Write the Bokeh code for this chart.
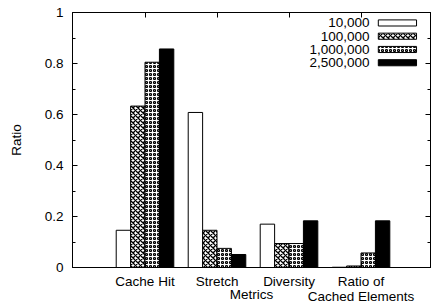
from bokeh.plotting import figure
from bokeh.models import Range1d, FixedTicker, LinearAxis
from bokeh.core.properties import value
from bokeh.embed import file_html
from bokeh.resources import INLINE

# ---- data ----
metrics = ["Cache Hit", "Stretch", "Diversity", "Ratio of\nCached Elements"]
series = ["10,000", "100,000", "1,000,000", "2,500,000"]
v_10k = [0.146, 0.608, 0.170, 0.001]
v_100k = [0.633, 0.146, 0.094, 0.006]
v_1m = [0.805, 0.075, 0.094, 0.057]
v_2_5m = [0.857, 0.051, 0.183, 0.183]
y_ticks = [0, 0.2, 0.4, 0.6, 0.8, 1.0]
y_tick_labels = ["0", "0.2", "0.4", "0.6", "0.8", "1"]
y_minor = [0.1, 0.3, 0.5, 0.7, 0.9]

FONT = "Liberation Sans"
FS = "13.5px"

values = [v_10k, v_100k, v_1m, v_2_5m]
styles = [
    dict(fill_color="white"),
    dict(fill_color="white", hatch_pattern="diagonal_cross", hatch_scale=5, hatch_weight=1.3, hatch_color="black"),
    dict(fill_color="white", hatch_pattern="ring", hatch_scale=4, hatch_weight=1.2, hatch_color="black"),
    dict(fill_color="black"),
]
offsets = [-0.3, -0.1, 0.1, 0.3]
bar_w = 0.2

p = figure(width=432, height=305, x_range=Range1d(-1.007, 3.965), y_range=Range1d(0, 1),
           output_backend="svg", toolbar_location=None,
           min_border_left=72, min_border_right=2, min_border_top=12, min_border_bottom=38)
p.background_fill_color = "white"
p.border_fill_color = "white"
p.outline_line_color = "black"
p.outline_line_width = 1
p.xgrid.visible = False
p.ygrid.visible = False

cats = list(range(len(metrics)))
for i, (vals, st) in enumerate(zip(values, styles)):
    xs = [c + offsets[i] for c in cats]
    p.vbar(x=xs, top=vals, bottom=0, width=bar_w, line_color="black", line_width=1, **st)

# legend (label left, swatch right as in reference)
leg_y = [0.959, 0.907, 0.855, 0.803]
leg_text_x = 3.118
sw_l, sw_r, sw_h = 3.24, 3.771, 0.012
for i, st in enumerate(styles):
    p.quad(left=[sw_l], right=[sw_r], top=[leg_y[i] + sw_h], bottom=[leg_y[i] - sw_h],
           line_color="black", line_width=1, **st)
p.text(x=[leg_text_x] * 4, y=leg_y, text=series, text_align="right", text_baseline="middle",
       text_font=value(FONT), text_font_size=FS, text_color="black")

# axes
def style_axis(ax):
    ax.axis_line_color = "black"
    ax.major_tick_line_color = "black"
    ax.minor_tick_line_color = "black"
    ax.major_tick_in = 5
    ax.major_tick_out = 0
    ax.minor_tick_in = 3
    ax.minor_tick_out = 0
    ax.major_label_text_font = FONT
    ax.major_label_text_font_size = FS
    ax.major_label_text_color = "black"
    ax.axis_label_text_font = FONT
    ax.axis_label_text_font_size = FS
    ax.axis_label_text_font_style = "normal"
    ax.axis_label_text_color = "black"

p.yaxis.ticker = FixedTicker(ticks=y_ticks, minor_ticks=y_minor)
style_axis(p.yaxis[0])
p.yaxis.major_label_overrides = {t: s for t, s in zip(y_ticks, y_tick_labels)}
p.yaxis.major_label_standoff = 9
p.yaxis.axis_label = "Ratio"
p.yaxis.axis_label_standoff = 18

p.xaxis.ticker = FixedTicker(ticks=cats, minor_ticks=[])
style_axis(p.xaxis[0])
p.xaxis.major_label_overrides = {c: m for c, m in zip(cats, metrics)}
p.xaxis.major_label_standoff = 6
p.xaxis.major_label_text_line_height = 1.0
p.xaxis.axis_label = "Metrics"
p.xaxis.axis_label_standoff = -20

# mirrored ticks (right and top), no labels: drawn as minor ticks only
def mirror(ticks, tick_len, side):
    ax = LinearAxis(ticker=FixedTicker(ticks=[], minor_ticks=ticks))
    style_axis(ax)
    ax.minor_tick_in = tick_len
    ax.major_label_standoff = 0
    p.add_layout(ax, side)

mirror(y_ticks, 5, "right")
mirror(y_minor, 3, "right")
mirror(cats, 5, "above")

open("out.html", "w").write(file_html(p, INLINE))
